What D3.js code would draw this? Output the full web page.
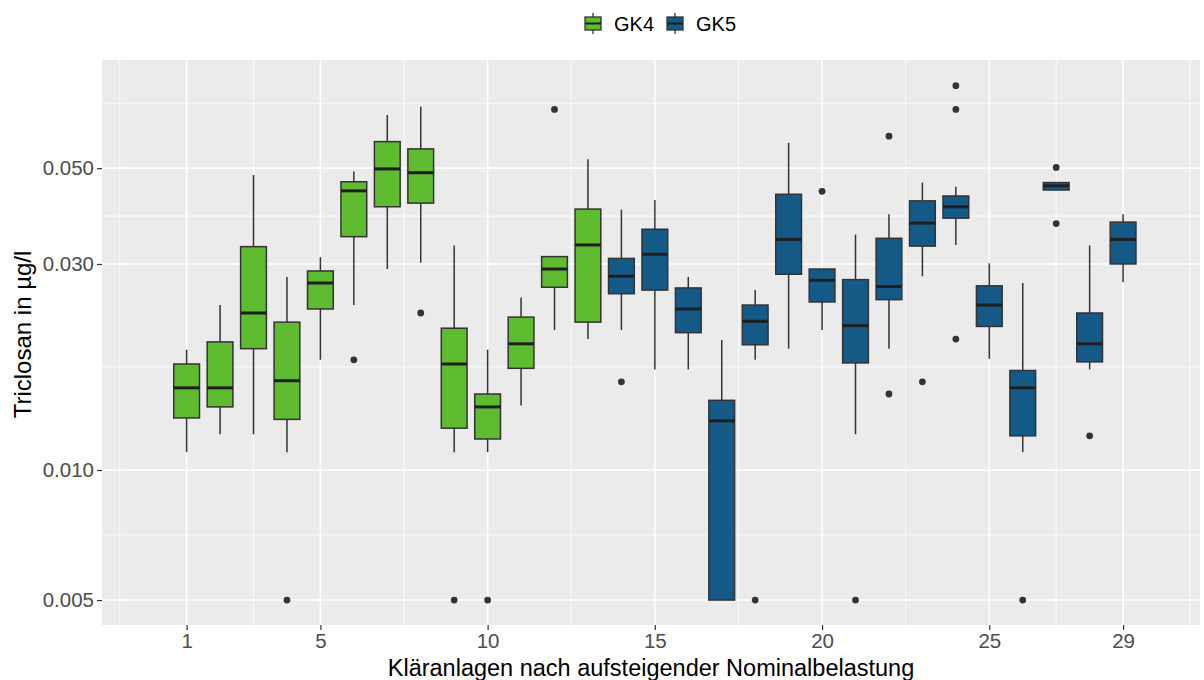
<!DOCTYPE html>
<html>
<head>
<meta charset="utf-8">
<script src="https://cdn.jsdelivr.net/npm/d3@7"></script>
<style>
  html, body { margin: 0; padding: 0; background: #ffffff; }
  svg { display: block; font-family: "Liberation Sans", Arial, sans-serif; }
</style>
</head>
<body>
<svg id="chart" width="1204" height="680"></svg>
<script>
// Treatment plants ordered by nominal load, with their size class
const plants = d3.range(1, 30);
const groups = ["GK4","GK4","GK4","GK4","GK4","GK4","GK4","GK4","GK4","GK4","GK4","GK4","GK4",
                "GK5","GK5","GK5","GK5","GK5","GK5","GK5","GK5","GK5","GK5","GK5","GK5","GK5","GK5","GK5","GK5"];

// Box statistics per plant (Triclosan, µg/l)
const whiskerLow  = [0.0110,0.0121,0.0121,0.0110,0.0180,0.0241,0.0292,0.0302,0.0110,0.0110,0.0141,0.0211,0.0201,
                     0.0211,0.0171,0.0171,0.0050,0.0180,0.0191,0.0211,0.0121,0.0191,0.0281,0.0332,0.0181,0.0110,0.0445,0.0171,0.0272];
const q1          = [0.0132,0.0140,0.0191,0.0131,0.0236,0.0347,0.0407,0.0415,0.0125,0.0118,0.0172,0.0265,0.0220,
                     0.0256,0.0261,0.0208,0.0050,0.0195,0.0284,0.0245,0.0177,0.0248,0.0330,0.0383,0.0215,0.0120,0.0445,0.0178,0.0300];
const median      = [0.0155,0.0155,0.0231,0.0161,0.0271,0.0443,0.0498,0.0488,0.0176,0.0140,0.0196,0.0292,0.0332,
                     0.0281,0.0316,0.0236,0.0130,0.0221,0.0342,0.0275,0.0216,0.0266,0.0373,0.0407,0.0241,0.0155,0.0455,0.0196,0.0342];
const q3          = [0.0176,0.0198,0.0329,0.0220,0.0289,0.0465,0.0576,0.0554,0.0213,0.0150,0.0226,0.0312,0.0402,
                     0.0309,0.0361,0.0264,0.0145,0.0241,0.0435,0.0292,0.0276,0.0344,0.0420,0.0431,0.0267,0.0170,0.0463,0.0231,0.0375];
const whiskerHigh = [0.0190,0.0241,0.0482,0.0280,0.0311,0.0491,0.0664,0.0694,0.0331,0.0190,0.0251,0.0312,0.0524,
                     0.0401,0.0422,0.0280,0.0200,0.0261,0.0572,0.0292,0.0351,0.0391,0.0463,0.0453,0.0301,0.0271,0.0463,0.0331,0.0391];
const outliers    = [[],[],[],[0.005],[],[0.0180],[],[0.0231],[0.005],[0.005],[],[0.0684],[],
                     [0.0160],[],[],[],[0.005],[],[0.0442],[0.005],[0.0593,0.0150],[0.0160],[0.0776,0.0684,0.0201],[],[0.005],[0.0502,0.0372],[0.0120],[]];

// Axis breaks and labels
const xBreaks = [1, 5, 10, 15, 20, 25, 29];
const yBreaks = [0.005, 0.010, 0.030, 0.050];
const yLabels = ["0.005", "0.010", "0.030", "0.050"];
const legendKeys = ["GK4", "GK5"];
const groupColors = ["#5fbb2f", "#155a86"];

const svg = d3.select("#chart");
const panel = { left: 102, right: 1200, top: 60, bottom: 625 };

const x = d3.scaleLinear().domain([-1.53, 31.3]).range([panel.left, panel.right]);
const y = d3.scaleLog().domain([0.004377, 0.0890]).range([panel.bottom, panel.top]);
const fill = d3.scaleOrdinal().domain(legendKeys).range(groupColors);

// Minor breaks sit halfway between majors (in transformed space)
const xMinor = [];
const xb = [xBreaks[0] - (xBreaks[1] - xBreaks[0])].concat(xBreaks, [xBreaks[xBreaks.length-1] + (xBreaks[xBreaks.length-1] - xBreaks[xBreaks.length-2])]);
for (let i = 0; i < xb.length - 1; i++) {
  const m = (xb[i] + xb[i+1]) / 2;
  if (m >= x.domain()[0] && m <= x.domain()[1]) xMinor.push(m);
}
const yb = yBreaks.concat([0.1]);
const yMinor = [];
for (let i = 0; i < yb.length - 1; i++) {
  const m = Math.sqrt(yb[i] * yb[i+1]);
  if (m >= y.domain()[0] && m <= y.domain()[1]) yMinor.push(m);
}

// Panel background
svg.append("rect")
  .attr("x", panel.left).attr("y", panel.top)
  .attr("width", panel.right - panel.left).attr("height", panel.bottom - panel.top)
  .attr("fill", "#ebebeb");

const grid = svg.append("g");
grid.selectAll(".ymin").data(yMinor).enter().append("line")
  .attr("x1", panel.left).attr("x2", panel.right)
  .attr("y1", d => y(d)).attr("y2", d => y(d))
  .attr("stroke", "#ffffff").attr("stroke-width", 0.8);
grid.selectAll(".xmin").data(xMinor).enter().append("line")
  .attr("y1", panel.top).attr("y2", panel.bottom)
  .attr("x1", d => x(d)).attr("x2", d => x(d))
  .attr("stroke", "#ffffff").attr("stroke-width", 0.8);
grid.selectAll(".ymaj").data(yBreaks).enter().append("line")
  .attr("x1", panel.left).attr("x2", panel.right)
  .attr("y1", d => y(d)).attr("y2", d => y(d))
  .attr("stroke", "#ffffff").attr("stroke-width", 1.6);
grid.selectAll(".xmaj").data(xBreaks).enter().append("line")
  .attr("y1", panel.top).attr("y2", panel.bottom)
  .attr("x1", d => x(d)).attr("x2", d => x(d))
  .attr("stroke", "#ffffff").attr("stroke-width", 1.6);

// Boxplots
const boxW = 0.77 * (x(2) - x(1));
const rows = plants.map((p, i) => ({
  plant: p, group: groups[i],
  lo: whiskerLow[i], q1: q1[i], med: median[i], q3: q3[i], hi: whiskerHigh[i], out: outliers[i]
}));

const boxes = svg.append("g").selectAll("g").data(rows).enter().append("g");
boxes.append("line")
  .attr("x1", d => x(d.plant)).attr("x2", d => x(d.plant))
  .attr("y1", d => y(d.hi)).attr("y2", d => y(d.q3))
  .attr("stroke", "#333333").attr("stroke-width", 1.5);
boxes.append("line")
  .attr("x1", d => x(d.plant)).attr("x2", d => x(d.plant))
  .attr("y1", d => y(d.q1)).attr("y2", d => y(d.lo))
  .attr("stroke", "#333333").attr("stroke-width", 1.5);
boxes.append("rect")
  .attr("x", d => x(d.plant) - boxW / 2).attr("width", boxW)
  .attr("y", d => y(d.q3)).attr("height", d => Math.max(0.5, y(d.q1) - y(d.q3)))
  .attr("fill", d => fill(d.group))
  .attr("stroke", "#333333").attr("stroke-width", 1.5);
boxes.append("line")
  .attr("x1", d => x(d.plant) - boxW / 2).attr("x2", d => x(d.plant) + boxW / 2)
  .attr("y1", d => y(d.med)).attr("y2", d => y(d.med))
  .attr("stroke", "#1f1f1f").attr("stroke-width", 3);
boxes.selectAll("circle").data(d => d.out.map(v => ({ plant: d.plant, v }))).enter().append("circle")
  .attr("cx", d => x(d.plant)).attr("cy", d => y(d.v)).attr("r", 3.4)
  .attr("fill", "#333333");

// Axes
const yAxis = d3.axisLeft(y).tickValues(yBreaks).tickFormat((d, i) => yLabels[i]).tickSize(5).tickPadding(3);
const gy = svg.append("g").attr("transform", `translate(${panel.left},0)`).call(yAxis);
const xAxis = d3.axisBottom(x).tickValues(xBreaks).tickFormat(d3.format("d")).tickSize(5).tickPadding(3);
const gx = svg.append("g").attr("transform", `translate(0,${panel.bottom})`).call(xAxis);
[gy, gx].forEach(g => {
  g.select(".domain").remove();
  g.selectAll(".tick line").attr("stroke", "#333333").attr("stroke-width", 1.2);
  g.selectAll(".tick text").attr("fill", "#4d4d4d").style("font-size", "20.5px");
});

// Axis titles
svg.append("text")
  .attr("x", (panel.left + panel.right) / 2).attr("y", 676)
  .attr("text-anchor", "middle").attr("fill", "#000000").style("font-size", "23.5px")
  .text("Kläranlagen nach aufsteigender Nominalbelastung");
svg.append("text")
  .attr("transform", `translate(31,${(panel.top + panel.bottom) / 2 - 8}) rotate(-90)`)
  .attr("text-anchor", "middle").attr("fill", "#000000").style("font-size", "24px")
  .text("Triclosan in µg/l");

// Legend
const legend = svg.append("g");
const keyX = [583, 665];
legendKeys.forEach((k, i) => {
  const g = legend.append("g").attr("transform", `translate(${keyX[i]},13)`);
  g.append("line").attr("x1", 10).attr("x2", 10).attr("y1", 0).attr("y2", 21)
    .attr("stroke", "#333333").attr("stroke-width", 1.3);
  g.append("rect").attr("x", 2).attr("y", 4).attr("width", 16).attr("height", 13)
    .attr("fill", fill(k)).attr("stroke", "#333333").attr("stroke-width", 1.3);
  g.append("line").attr("x1", 2).attr("x2", 18).attr("y1", 10.5).attr("y2", 10.5)
    .attr("stroke", "#1f1f1f").attr("stroke-width", 2);
  g.append("text").attr("x", 31).attr("y", 18)
    .attr("fill", "#000000").style("font-size", "20px").text(k);
});
</script>
</body>
</html>
